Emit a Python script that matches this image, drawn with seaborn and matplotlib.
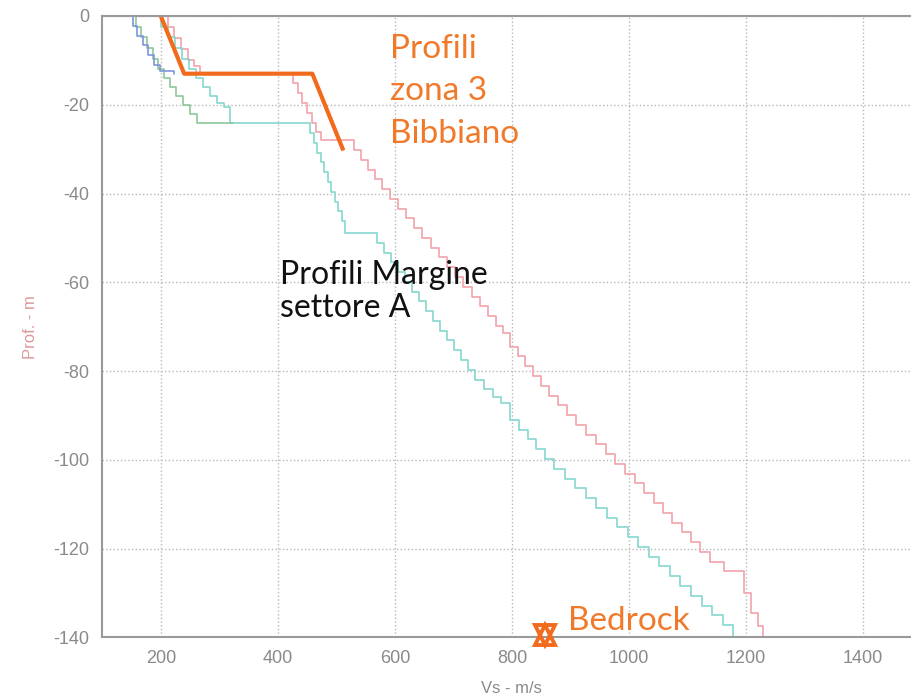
import numpy as np
import pandas as pd
import matplotlib
matplotlib.use('Agg')
import matplotlib.pyplot as plt
import seaborn as sns

# Vs profiles: velocity (m/s) at the top of each layer, depth (m) of that layer top
pink_vs = [212, 222, 234, 246, 257, 267, 426, 434, 442, 450, 458, 466, 474,
           530, 542, 554, 566, 578, 591, 605, 619, 633, 647, 661, 675, 689, 703,
           717, 731, 745, 759, 773, 785, 797, 810, 823, 836, 849, 864, 879, 894,
           909, 926, 943, 960, 977, 994, 1010, 1026, 1042, 1058, 1074, 1090,
           1106, 1122, 1138, 1162, 1196, 1208, 1220, 1229, 1229]
pink_z = [0, -2.5, -5, -7.5, -10, -11.3, -13, -15.2, -17.4, -19.6, -21.8, -24, -26.2,
          -28, -30.2, -32.4, -34.6, -36.8, -39, -41.2, -43.4, -45.6, -47.8, -50, -52.2,
          -54.4, -56.6, -58.8, -61, -63.2, -65.4, -67.6, -69.8, -71.5, -74.5, -76.7,
          -78.9, -81.1, -83.3, -85.5, -87.7, -89.9, -92.1, -94.3, -96.5, -98.7, -100.9,
          -103.1, -105.3, -107.5, -109.7, -111.9, -114.1, -116.3, -118.5, -120.7,
          -122.9, -125.1, -130, -134.5, -137.5, -140]

cyan_vs = [200, 212, 224, 236, 248, 260, 272, 284, 296, 308, 319, 455, 461, 467,
           473, 479, 485, 491, 497, 503, 509, 515, 569, 581, 593, 605, 617, 629, 641,
           653, 665, 677, 689, 701, 713, 725, 737, 752, 767, 782, 797, 812, 827, 842,
           857, 872, 890, 908, 926, 944, 962, 980, 998, 1016, 1034, 1052, 1070, 1088,
           1106, 1124, 1142, 1160, 1178, 1178]
cyan_z = [0, -2.4, -4.8, -7.2, -9.6, -12, -14, -16, -18, -19.5, -20.5, -24.2, -26.4,
          -28.6, -30.8, -33, -35.2, -37.4, -39.6, -41.8, -44, -46.2, -48.9, -51.1,
          -53.3, -55.5, -57.7, -59.9, -62.1, -64.3, -66.5, -68.7, -70.9, -73.1, -75.3,
          -77.5, -79.7, -81.9, -84.1, -85.8, -87.2, -91, -93.2, -95.4, -97.6, -99.8,
          -102, -104.2, -106.4, -108.6, -110.8, -113, -115.2, -117.4, -119.6, -121.8,
          -124, -126.2, -128.4, -130.6, -132.8, -135, -137.2, -140]

green_vs = [157, 166, 176, 186, 196, 206, 216, 226, 238, 250, 262, 272, 324]
green_z = [0, -2.4, -4.8, -7.2, -9.6, -12, -14, -16, -18, -20, -22, -24.2, -24.2]

blue_vs = [152, 160, 169, 178, 188, 198, 210, 222, 222]
blue_z = [0, -2.2, -4.4, -6.6, -8.8, -11, -12.5, -12.5, -13]

# Bibbiano zone 3 profile
orange_vs = [200, 240, 459, 512]
orange_z = [0, -13, -13, -30.3]

bedrock_vs = [857]
bedrock_z = [-139.5]

x_ticks = [200, 400, 600, 800, 1000, 1200, 1400]
y_ticks = [0, -20, -40, -60, -80, -100, -120, -140]

sns.set_style('white')
plt.rcParams['axes.unicode_minus'] = False
plt.rcParams['font.family'] = ['Liberation Sans', 'DejaVu Sans']

fig = plt.figure(figsize=(9.12, 6.98), dpi=100)
ax = fig.add_axes([0.1121, 0.0867, 0.8984, 0.8904])

profiles = [
    (pink_vs, pink_z, '#f2a2aa'),
    (cyan_vs, cyan_z, '#84d8cf'),
    (green_vs, green_z, '#8cc79a'),
    (blue_vs, blue_z, '#7f95dc'),
]
for vs, z, col in profiles:
    df = pd.DataFrame({'vs': vs, 'z': z})
    sns.lineplot(data=df, x='vs', y='z', sort=False, estimator=None, ax=ax,
                 color=col, linewidth=1.2, drawstyle='steps-pre')

df_or = pd.DataFrame({'vs': orange_vs, 'z': orange_z})
sns.lineplot(data=df_or, x='vs', y='z', sort=False, estimator=None, ax=ax,
             color='#f26b1d', linewidth=3, solid_capstyle='butt')

# bedrock star (two triangles)
for mk in ['^', 'v']:
    ax.plot(bedrock_vs, bedrock_z, marker=mk, markersize=15, mfc='none',
            mec='#f26b1d', mew=2.8, linestyle='none', clip_on=False, zorder=5)

ax.set_xlim(100, 1500)
ax.set_ylim(-140, 0)
ax.set_xticks(x_ticks)
ax.set_yticks(y_ticks)
ax.grid(True, linestyle=':', color='#b8b8b8', linewidth=1)
for s in ['left', 'bottom', 'top', 'right']:
    ax.spines[s].set_color('#9a9a9a')
    ax.spines[s].set_linewidth(1.5)
ax.tick_params(direction='in', length=4, color='#9a9a9a', labelcolor='#8a8a8a',
               labelsize=13, pad=9)

ax.set_xlabel('Vs - m/s', color='#8a8a8a', fontsize=12, labelpad=10)
ax.set_ylabel('Prof. - m', color='#d99a9a', fontsize=12, labelpad=11)

ax.text(592, -4.0, 'Profili\nzona 3\nBibbiano', color='#f07a2a', fontsize=24,
        family='Lato', va='top', ha='left', linespacing=1.52)
ax.text(404, -55.0, 'Profili Margine\nsettore A', color='#111111', fontsize=23,
        family='Lato', va='top', ha='left', linespacing=1.1)
ax.text(896, -136.3, 'Bedrock', color='#f07a2a', fontsize=24, family='Lato',
        va='center', ha='left')

fig.savefig('out.png', dpi=100)
